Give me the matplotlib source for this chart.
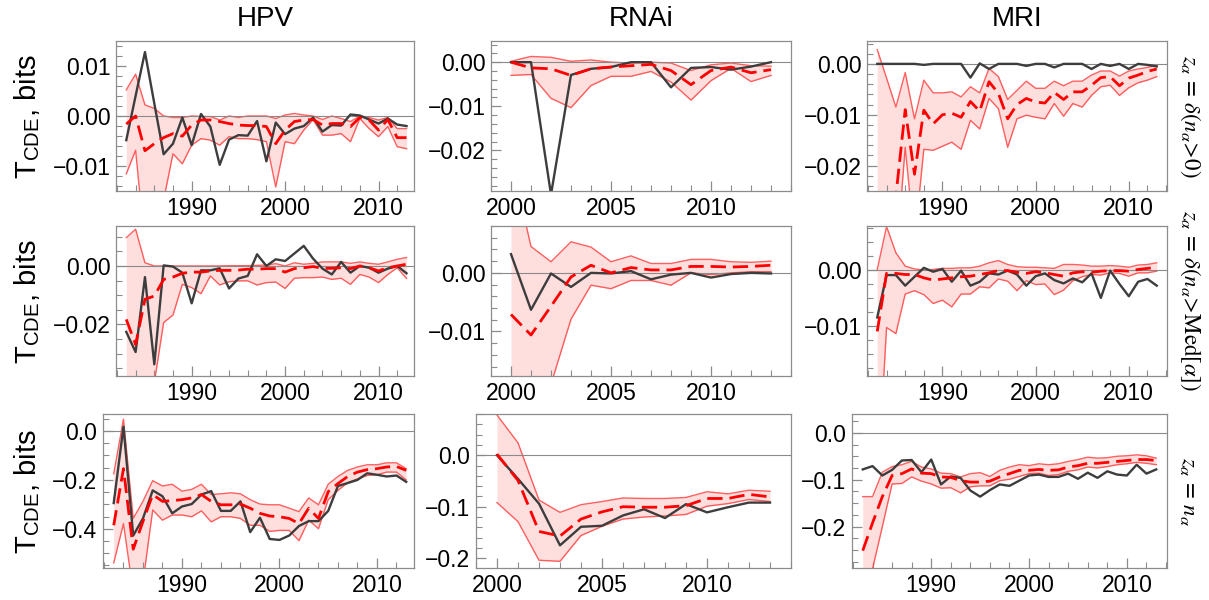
import numpy as np
import matplotlib
matplotlib.use("Agg")
import matplotlib.pyplot as plt
from matplotlib.ticker import MultipleLocator, FuncFormatter

plt.rcParams['font.family'] = ['Liberation Sans', 'DejaVu Sans']
plt.rcParams['mathtext.fontset'] = 'stix'
plt.rcParams['axes.unicode_minus'] = True

# ---------------- data ----------------
years_long = list(range(1983, 2014))
years_rnai = list(range(2000, 2014))

columns = ["HPV", "RNAi", "MRI"]
row_labels = [r"$z_{\alpha}\,=\,\delta(n_{\alpha}\!>\!0)$",
              r"$z_{\alpha}\,=\,\delta(n_{\alpha}\!>\!\mathrm{Med}[\alpha])$",
              r"$z_{\alpha}\,=\,n_{\alpha}$"]

# row 1 : z = delta(n>0)
hpv1_obs = [-0.0048, 0.004, 0.0127, 0.0025, -0.0076, -0.0055, -0.0003, -0.0058, 0.0004, -0.0021,
            -0.0097, -0.0047, -0.0038, -0.0039, -0.001, -0.009, -0.0013, -0.0036, -0.0025, -0.002,
            -0.0003, -0.0031, -0.0018, -0.0019, 0.0003, 0.0001, -0.0007, -0.0015, -0.0005, -0.0017, -0.002]
hpv1_mean = [-0.0016, 0.0, -0.0069, -0.0055, -0.0043, -0.0035, -0.004, -0.0018, -0.0008, -0.0008,
             -0.0011, -0.0015, -0.0018, -0.0019, -0.0019, -0.0021, -0.0055, -0.0028, -0.0011, -0.0008,
             -0.0007, -0.0018, -0.0015, -0.0015, -0.0021, -0.0003, -0.0008, -0.0028, -0.0007, -0.0043, -0.0043]
hpv1_hi = [0.0052, 0.0083, 0.0022, 0.0015, 0.0, -0.0003, -0.0003, 0.0, -0.0001, -0.0001,
           -0.0008, 0.0, -0.0003, 0.0, 0.0, 0.0, -0.0005, 0.0002, 0.0005, 0.0002,
           0.0, -0.0007, 0.0, -0.0005, -0.0011, 0.0, -0.0003, -0.0008, -0.0003, -0.0025, -0.0025]
hpv1_lo = [-0.0115, -0.0068, -0.026, -0.030, -0.0167, -0.0075, -0.0095, -0.0058, -0.0045, -0.0048,
           -0.0058, -0.0041, -0.0045, -0.0045, -0.0047, -0.0051, -0.0141, -0.0051, -0.0055, -0.0028,
           -0.0007, -0.0038, -0.0038, -0.0035, -0.0051, -0.0005, -0.0025, -0.0041, -0.0021, -0.0061, -0.0065]

rnai1_obs = [0.0, 0.0, -0.030, -0.0029, -0.0015, -0.0011, 0.0, 0.0, -0.0057, -0.0013, -0.0011, -0.0017, -0.001, 0.0]
rnai1_mean = [0.0, -0.0013, -0.0015, -0.003, -0.0015, -0.0011, -0.0008, -0.0005, -0.0019, -0.0051, -0.0019, -0.0011, -0.0024, -0.0017]
rnai1_hi = [0.0002, 0.0013, 0.0011, 0.0002, 0.0005, 0.0, -0.0002, 0.0, -0.0002, -0.0019, -0.0006, -0.0002, -0.0008, -0.0009]
rnai1_lo = [-0.003, -0.0028, -0.0082, -0.0103, -0.0053, -0.0032, -0.0032, -0.0021, -0.0045, -0.0086, -0.0042, -0.0014, -0.0044, -0.003]

mri1_obs = [0.0, 0.0, 0.0, 0.0, 0.0, -0.0002, 0.0, 0.0, 0.0, 0.0,
            -0.0027, 0.0001, -0.001, 0.0, 0.0, 0.0, -0.0004, 0.0, 0.0, -0.0007,
            0.0, 0.0, 0.0, -0.001, 0.0, -0.0004, 0.0, -0.001, 0.0, -0.0002, -0.0005]
mri1_mean = [-0.045, -0.040, -0.026, -0.009, -0.0217, -0.0091, -0.0118, -0.010, -0.0097, -0.0105,
             -0.0074, -0.0093, -0.0035, -0.0058, -0.0108, -0.008, -0.0068, -0.0075, -0.0077, -0.0056,
             -0.007, -0.0055, -0.0055, -0.0042, -0.0027, -0.0025, -0.0043, -0.0028, -0.0022, -0.0015, -0.001]
mri1_hi = [0.0028, -0.0028, -0.0085, -0.0017, -0.0108, -0.0032, -0.0057, -0.0057, -0.0055, -0.0065,
           -0.0045, -0.0057, -0.0009, -0.0025, -0.007, -0.0052, -0.0034, -0.0048, -0.0048, -0.0034,
           -0.0043, -0.0034, -0.0034, -0.0022, -0.0014, -0.0014, -0.0024, -0.0014, -0.001, -0.0007, -0.0003]
mri1_lo = [-0.06, -0.05, -0.04, -0.0164, -0.035, -0.0168, -0.017, -0.0162, -0.0154, -0.0168,
           -0.0111, -0.0128, -0.0068, -0.0088, -0.0164, -0.0108, -0.0101, -0.0105, -0.0108, -0.0078,
           -0.0103, -0.0078, -0.0085, -0.0062, -0.0045, -0.0042, -0.0062, -0.0047, -0.0037, -0.0032, -0.0025]

# row 2 : z = delta(n > Med)
hpv2_obs = [-0.0226, -0.0295, -0.0038, -0.0337, 0.0002, -0.0002, -0.0023, -0.0128, -0.0015, -0.0015,
            -0.0008, -0.0077, -0.0043, -0.0034, 0.004, 0.0, 0.0023, 0.0017, 0.0043, 0.0069,
            0.0025, -0.0009, -0.0029, 0.0014, -0.0023, 0.0, -0.0006, -0.0023, -0.0009, 0.0, -0.0025]
hpv2_mean = [-0.0183, -0.0269, -0.0114, -0.0103, -0.0046, -0.0038, -0.0025, -0.0021, -0.0021, -0.0017,
             -0.0015, -0.0015, -0.0014, -0.0011, -0.0011, -0.0009, -0.0009, -0.0021, -0.0009, -0.0006,
             -0.0002, -0.0008, -0.0008, -0.0006, -0.0009, 0.0, -0.0006, -0.0017, -0.0006, 0.0, 0.0006]
hpv2_hi = [0.0097, 0.0126, 0.0011, 0.0, 0.0, 0.0, 0.0, 0.0, 0.0, 0.0,
           0.0, 0.0001, 0.0001, 0.0001, 0.0002, 0.0003, 0.0008, 0.0, 0.0011, 0.0006,
           0.0009, 0.0014, 0.0014, 0.0014, 0.0009, 0.0014, 0.0009, 0.0006, 0.0014, 0.0023, 0.0029]
hpv2_lo = [-0.05, -0.05, -0.05, -0.040, -0.0194, -0.0168, -0.0063, -0.0074, -0.0095, -0.0034,
           -0.0065, -0.0054, -0.0051, -0.0051, -0.0065, -0.0057, -0.0055, -0.0077, -0.0042, -0.004,
           -0.004, -0.0038, -0.0046, -0.0042, -0.0063, -0.0029, -0.0038, -0.0057, -0.0029, -0.0006, -0.0043]

rnai2_obs = [0.0032, -0.0063, -0.0001, -0.0024, 0.0, -0.0001, 0.0003, -0.0011, -0.0003, 0.0, -0.0008, -0.0002, 0.0, -0.0001]
rnai2_mean = [-0.0071, -0.0106, -0.0057, -0.0007, 0.0013, 0.0, 0.0009, 0.0005, 0.0005, 0.0011, 0.0011, 0.001, 0.0011, 0.0013]
rnai2_hi = [0.0195, 0.0045, 0.0019, 0.0053, 0.0044, 0.0019, 0.0029, 0.0016, 0.0016, 0.0023, 0.0023, 0.0019, 0.0018, 0.002]
rnai2_lo = [-0.04, -0.03, -0.019, -0.0079, -0.0021, -0.0027, -0.0013, -0.0013, -0.0021, 0.0, -0.0003, 0.0, 0.0002, 0.0002]

mri2_obs = [-0.0085, -0.0009, -0.0009, -0.0028, -0.0012, 0.0004, -0.0003, 0.0002, -0.0021, -0.0001,
            -0.0028, -0.0021, -0.0006, -0.0008, -0.0001, -0.0008, -0.0028, -0.0011, -0.0006, -0.0018,
            -0.0024, -0.0015, -0.0022, -0.0006, -0.005, -0.0001, -0.0025, -0.0047, -0.0021, -0.0016, -0.0028]
mri2_mean = [-0.011, -0.0006, -0.0006, -0.0008, -0.0008, -0.0014, -0.0018, -0.0016, -0.0014, -0.0012,
             -0.0011, -0.0008, -0.0005, -0.0001, -0.0001, -0.0004, -0.0006, -0.0003, -0.0005, -0.0008,
             -0.0011, -0.0005, -0.0003, -0.0004, -0.0002, -0.0001, -0.0001, -0.0002, 0.0001, 0.0003, 0.0005]
mri2_hi = [0.0001, 0.0078, 0.0031, 0.0007, 0.0002, 0.0, 0.0001, 0.0003, 0.0003, 0.0004,
           0.0004, 0.0007, 0.0013, 0.0017, 0.001, 0.0006, 0.0005, 0.0005, 0.0004, 0.0003,
           0.001, 0.001, 0.0009, 0.0007, 0.0007, 0.0008, 0.0007, 0.0005, 0.0009, 0.001, 0.0013]
mri2_lo = [-0.04, -0.0103, -0.0114, -0.0043, -0.0037, -0.0044, -0.006, -0.0054, -0.0066, -0.0043,
           -0.0043, -0.003, -0.0032, -0.0016, -0.002, -0.0037, -0.0019, -0.0026, -0.0025, -0.0044,
           -0.0036, -0.0019, -0.0012, -0.0008, -0.0009, -0.0005, -0.0006, -0.0011, -0.0005, -0.0005, -0.0002]

# row 3 : z = n
hpv3_obs = [-0.295, 0.018, -0.428, -0.358, -0.243, -0.267, -0.337, -0.309, -0.299, -0.26,
            -0.246, -0.327, -0.327, -0.288, -0.414, -0.355, -0.442, -0.446, -0.428, -0.389,
            -0.369, -0.369, -0.327, -0.225, -0.213, -0.2, -0.173, -0.179, -0.186, -0.182, -0.208]
hpv3_mean = [-0.386, -0.154, -0.484, -0.37, -0.26, -0.288, -0.285, -0.281, -0.274, -0.26,
             -0.288, -0.302, -0.302, -0.299, -0.316, -0.337, -0.348, -0.351, -0.358, -0.379,
             -0.316, -0.358, -0.248, -0.215, -0.186, -0.168, -0.158, -0.154, -0.147, -0.145, -0.161]
hpv3_hi = [-0.175, 0.049, -0.358, -0.288, -0.203, -0.225, -0.218, -0.246, -0.239, -0.218,
           -0.26, -0.257, -0.253, -0.257, -0.281, -0.299, -0.302, -0.302, -0.316, -0.33,
           -0.274, -0.302, -0.218, -0.186, -0.161, -0.147, -0.138, -0.138, -0.13, -0.13, -0.154]
hpv3_lo = [-0.54, -0.379, -0.66, -0.62, -0.323, -0.365, -0.344, -0.344, -0.351, -0.327,
           -0.372, -0.351, -0.351, -0.358, -0.386, -0.386, -0.411, -0.407, -0.407, -0.449,
           -0.365, -0.4, -0.281, -0.243, -0.211, -0.196, -0.182, -0.179, -0.168, -0.168, -0.2]

rnai3_obs = [0.0, -0.046, -0.094, -0.175, -0.139, -0.137, -0.117, -0.105, -0.122, -0.095, -0.111, -0.101, -0.092, -0.092]
rnai3_mean = [0.002, -0.049, -0.148, -0.157, -0.124, -0.11, -0.1, -0.101, -0.101, -0.098, -0.084, -0.084, -0.076, -0.081]
rnai3_hi = [0.078, 0.024, -0.087, -0.111, -0.096, -0.09, -0.083, -0.084, -0.084, -0.082, -0.071, -0.075, -0.068, -0.07]
rnai3_lo = [-0.092, -0.129, -0.204, -0.206, -0.156, -0.138, -0.124, -0.12, -0.118, -0.115, -0.099, -0.094, -0.086, -0.09]

mri3_obs = [-0.078, -0.071, -0.091, -0.079, -0.059, -0.058, -0.084, -0.057, -0.11, -0.093,
            -0.096, -0.123, -0.136, -0.122, -0.11, -0.113, -0.102, -0.091, -0.089, -0.094,
            -0.094, -0.087, -0.098, -0.085, -0.096, -0.082, -0.089, -0.091, -0.068, -0.087, -0.078]
mri3_mean = [-0.251, -0.192, -0.136, -0.091, -0.087, -0.077, -0.086, -0.087, -0.094, -0.095,
             -0.102, -0.105, -0.105, -0.103, -0.094, -0.087, -0.08, -0.08, -0.078, -0.08,
             -0.079, -0.073, -0.07, -0.065, -0.065, -0.063, -0.061, -0.059, -0.057, -0.057, -0.059]
mri3_hi = [-0.136, -0.136, -0.084, -0.072, -0.068, -0.061, -0.073, -0.077, -0.086, -0.087,
           -0.094, -0.087, -0.085, -0.093, -0.08, -0.073, -0.068, -0.07, -0.066, -0.068,
           -0.066, -0.061, -0.057, -0.052, -0.054, -0.053, -0.05, -0.049, -0.047, -0.049, -0.054]
mri3_lo = [-0.40, -0.29, -0.20, -0.109, -0.108, -0.094, -0.103, -0.109, -0.118, -0.117,
           -0.128, -0.115, -0.113, -0.113, -0.102, -0.099, -0.093, -0.087, -0.086, -0.091,
           -0.089, -0.082, -0.079, -0.073, -0.075, -0.072, -0.068, -0.066, -0.063, -0.065, -0.068]

# ---------------- layout / style ----------------
W, H = 1209, 600
fig = plt.figure(figsize=(W / 100, H / 100), dpi=100)

rows_px = [(41, 191), (226, 376), (414, 568)]
lefts_px = [[116, 491, 867], [116, 491, 867], [103, 476, 852]]
rights_px = [414, 791, 1167]

panels = [
    [(years_long, hpv1_obs, hpv1_mean, hpv1_lo, hpv1_hi),
     (years_rnai, rnai1_obs, rnai1_mean, rnai1_lo, rnai1_hi),
     (years_long, mri1_obs, mri1_mean, mri1_lo, mri1_hi)],
    [(years_long, hpv2_obs, hpv2_mean, hpv2_lo, hpv2_hi),
     (years_rnai, rnai2_obs, rnai2_mean, rnai2_lo, rnai2_hi),
     (years_long, mri2_obs, mri2_mean, mri2_lo, mri2_hi)],
    [(years_long, hpv3_obs, hpv3_mean, hpv3_lo, hpv3_hi),
     (years_rnai, rnai3_obs, rnai3_mean, rnai3_lo, rnai3_hi),
     (years_long, mri3_obs, mri3_mean, mri3_lo, mri3_hi)],
]

ylims = [[(-0.0149, 0.0149), (-0.0292, 0.0048), (-0.025, 0.0045)],
         [(-0.0377, 0.0137), (-0.0176, 0.008), (-0.019, 0.0079)],
         [(-0.561, 0.07), (-0.219, 0.08), (-0.288, 0.04)]]
ymajor = [[0.01, 0.01, 0.01], [0.02, 0.01, 0.01], [0.2, 0.1, 0.1]]
yminor = [[0.002, 0.002, 0.002], [0.005, 0.002, 0.0025], [0.05, 0.02, 0.025]]
ydec = [2, 2, 1]
xlims = [(1981.9, 2013.8), (1999.0, 2014.0), (1981.9, 2014.1)]
xmajor = [10, 5, 10]
xminor = [2, 1, 2]

frame_c = '#8c8c8c'


def make_fmt(dec):
    def f(v, pos):
        s = f"{v:.{dec}f}"
        if float(s) == 0:
            s = f"{0:.{dec}f}"
        return s.replace('-', '\u2212')
    return FuncFormatter(f)


for r in range(3):
    top, bot = rows_px[r]
    for c in range(3):
        l = lefts_px[r][c]
        rgt = rights_px[c]
        ax = fig.add_axes([l / W, 1 - bot / H, (rgt - l) / W, (bot - top) / H])
        yrs, obs, mean, lo, hi = panels[r][c]
        yrs = np.array(yrs)
        ax.fill_between(yrs, lo, hi, color='#ffdede', lw=0, zorder=1)
        ax.plot(yrs, hi, color='#ff4444', lw=1.0, alpha=0.85, zorder=2)
        ax.plot(yrs, lo, color='#ff4444', lw=1.0, alpha=0.85, zorder=2)
        ax.axhline(0, color='#8a8a8a', lw=0.8, zorder=3)
        ax.plot(yrs, obs, color='#3d3d3d', lw=1.7, zorder=4)
        ax.plot(yrs, mean, color='#ff0000', lw=2.0, dashes=(5.5, 2.5), zorder=5)
        ax.set_xlim(*xlims[c])
        ax.set_ylim(*ylims[r][c])
        ax.xaxis.set_major_locator(MultipleLocator(xmajor[c]))
        ax.xaxis.set_minor_locator(MultipleLocator(xminor[c]))
        ax.yaxis.set_major_locator(MultipleLocator(ymajor[r][c]))
        ax.yaxis.set_minor_locator(MultipleLocator(yminor[r][c]))
        ax.yaxis.set_major_formatter(make_fmt(ydec[r]))
        ax.tick_params(which='both', direction='in', top=False, right=False,
                       color=frame_c, labelsize=16.5, labelcolor='black')
        ax.tick_params(which='major', length=7, width=0.9, pad=4)
        ax.tick_params(which='minor', length=4, width=0.8)
        for sp in ax.spines.values():
            sp.set_color(frame_c)
            sp.set_linewidth(0.9)

    # y-axis label and right row label
    yc = 1 - (top + bot) / 2 / H
    fig.text(27 / W, yc, r'T$_{\mathregular{CDE}}$, bits', rotation=90,
             ha='center', va='center', fontsize=21)
    fig.text(1190 / W, yc, row_labels[r], rotation=270, ha='center', va='center', fontsize=16.5)

for c, name in enumerate(columns):
    xc = (lefts_px[0][c] + rights_px[c]) / 2 / W
    fig.text(xc, 1 - 19 / H, name, ha='center', va='center', fontsize=20)

fig.savefig('out.png', dpi=100)
